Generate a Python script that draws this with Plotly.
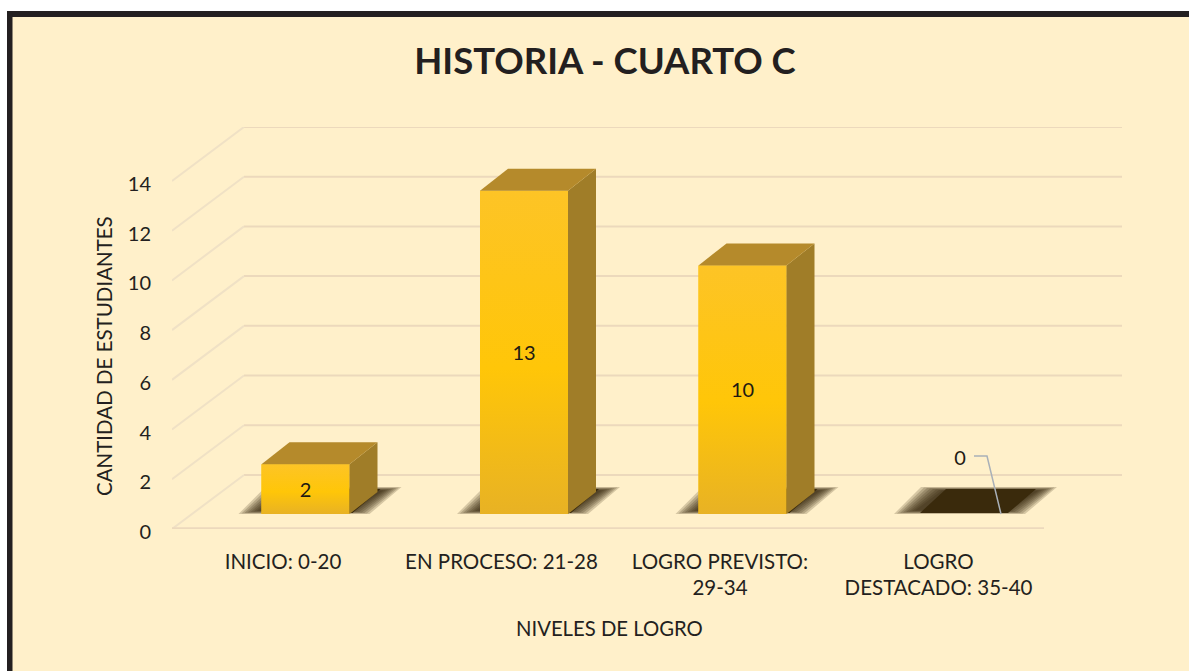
import plotly.graph_objects as go

categories = ["INICIO: 0-20", "EN PROCESO: 21-28", "LOGRO PREVISTO:<br>29-34", "LOGRO<br>DESTACADO: 35-40"]
values = [2, 13, 10, 0]
y_ticks = [0, 2, 4, 6, 8, 10, 12, 14]
title_text = "HISTORIA - CUARTO C"
x_title = "NIVELES DE LOGRO"
y_title = "CANTIDAD DE ESTUDIANTES"

W, H = 1189, 671
L, R, T, B = 172, 1122, 127, 529
X_UNIT, Y_UNIT = 218.5, 24.86
X0_PX = 283
CREAM, INK, BORDER = "#FFF0CA", "#231F20", "#231F20"
GRID, DIAG = "#ECD9BC", "#F0E1C5"

def dx(px):
    return px / X_UNIT

def dy(px):
    return px / Y_UNIT

x_range = [(L - X0_PX) / X_UNIT, (R - X0_PX) / X_UNIT]
y_range = [0, (B - T) / Y_UNIT]
BASE = dy(15)
BAR_W = dx(88)
SHIFT = dx(22.5)
DEPTH_X, DEPTH_Y = dx(28), dy(22)
WALL_X, WALL_Y = dx(72), dy(54)
positions = list(range(len(categories)))
centers = [p + SHIFT for p in positions]

def poly(points, **kw):
    path = "M " + " L ".join(f"{x},{y}" for x, y in points) + " Z"
    return dict(type="path", path=path, xref="x", yref="y", layer="below", line=dict(width=0), **kw)

def seg(x0, y0, x1, y1, color, width=2):
    return dict(type="line", x0=x0, y0=y0, x1=x1, y1=y1, xref="x", yref="y", layer="below",
                line=dict(color=color, width=width))

def page_rect(x0, y0, x1, y1, color):
    return dict(type="rect", xref="paper", yref="paper", layer="below", line=dict(width=0), fillcolor=color,
                x0=(x0 - L) / (R - L), x1=(x1 - L) / (R - L), y0=(B - y0) / (B - T), y1=(B - y1) / (B - T))

shapes = [
    page_rect(0, 0, W, 11, "white"),
    page_rect(0, 0, 7, H, "white"),
    page_rect(7, 11, W, 17, BORDER),
    page_rect(7, 11, 12.5, H, BORDER),
]

# walls, floor and gridlines
floor_right = x_range[0] + dx(872)
for t in y_ticks:
    shapes.append(seg(x_range[0] + WALL_X, t + WALL_Y, x_range[1], t + WALL_Y, GRID))
    shapes.append(seg(x_range[0], t, x_range[0] + WALL_X, t + WALL_Y, DIAG))
shapes.append(seg(x_range[0], 0.02, floor_right, 0.02, GRID, 2.5))

# soft contact shadows, built from stacked translucent layers
for c in centers:
    half = BAR_W / 2
    for i in range(8):
        a, b, v = dx(23 - 3 * i), dx(20 - 2.6 * i), dy(0.5 * i)
        shapes.append(poly([
            (c - half - a, BASE + v),
            (c + half + b, BASE + v),
            (c + half + dx(32) + b, BASE + dy(27) - v),
            (c - half + dx(27) - a, BASE + dy(27) - v),
        ], fillcolor="#33240C", opacity=0.2))
    shapes.append(poly([
        (c - half + dx(3), BASE + dy(1)),
        (c + half + dx(3), BASE + dy(1)),
        (c + half + dx(31), BASE + dy(25)),
        (c - half + dx(29), BASE + dy(25)),
    ], fillcolor="#3A2A0C", opacity=1))

fig = go.Figure()

# front faces
fig.add_trace(go.Bar(x=centers, y=values, base=[BASE] * len(values), width=BAR_W,
                     marker=dict(color="#FFC608", line=dict(width=0)), showlegend=False, hoverinfo="skip"))

for c, v in zip(centers, values):
    if v <= 0:
        continue
    x0, x1 = c - BAR_W / 2, c + BAR_W / 2
    top = BASE + v
    # gradient over the front face
    fig.add_trace(go.Scatter(
        x=[x0, x1, x1, x0, x0], y=[BASE, BASE, top, top, BASE], mode="lines", fill="toself",
        line=dict(width=0), showlegend=False, hoverinfo="skip",
        fillgradient=dict(type="vertical", colorscale=[[0, "#E8B224"], [0.45, "#FFC608"], [1, "#FDC426"]])))
    # right side
    fig.add_trace(go.Scatter(
        x=[x1, x1 + DEPTH_X, x1 + DEPTH_X, x1, x1], y=[BASE, BASE + DEPTH_Y, top + DEPTH_Y, top, BASE],
        mode="lines", fill="toself", line=dict(width=0), fillcolor="#A07D28", showlegend=False, hoverinfo="skip"))
    # top
    fig.add_trace(go.Scatter(
        x=[x0, x1, x1 + DEPTH_X, x0 + DEPTH_X, x0], y=[top, top, top + DEPTH_Y, top + DEPTH_Y, top],
        mode="lines", fill="toself", line=dict(width=0), fillcolor="#B58A2B", showlegend=False, hoverinfo="skip"))

# data labels
LABEL_NUDGE = dy(-2.5)
label_x = [c for c, v in zip(centers, values) if v > 0]
label_y = [BASE + v / 2 + LABEL_NUDGE for v in values if v > 0]
label_t = [str(v) for v in values if v > 0]
fig.add_trace(go.Scatter(x=label_x, y=label_y, text=label_t, mode="text", textposition="middle center",
                         textfont=dict(family="Lato", size=20, color="#1E1A12"), showlegend=False, hoverinfo="skip"))

# zero label with its leader line
zero_c = centers[3]
fig.add_trace(go.Scatter(
    x=[zero_c + dx(13), zero_c + dx(26), zero_c + dx(40)], y=[BASE + dy(58), BASE + dy(58), BASE],
    mode="lines", line=dict(color="#A9B0B8", width=1.5), showlegend=False, hoverinfo="skip"))
fig.add_trace(go.Scatter(x=[zero_c - dx(1)], y=[BASE + dy(54)], text=["0"], mode="text", textposition="middle center",
                         textfont=dict(family="Lato", size=20, color="#1E1A12"), showlegend=False, hoverinfo="skip"))

fig.update_layout(
    width=W, height=H, autosize=False,
    margin=dict(l=L, r=W - R, t=T, b=H - B),
    paper_bgcolor=CREAM, plot_bgcolor="rgba(0,0,0,0)",
    font=dict(family="Lato", color=INK, size=20),
    shapes=shapes, barmode="overlay",
    title=dict(text=f"<b>{title_text}</b>", x=605 / W, y=1 - 61 / H, xanchor="center", yanchor="middle",
               font=dict(family="Lato", size=36.5, color=INK)),
    annotations=[
        dict(text=x_title, xref="paper", yref="paper", x=(609 - L) / (R - L), y=(B - 628) / (B - T),
             showarrow=False, xanchor="center", yanchor="middle", font=dict(family="Lato", size=20.3, color=INK)),
        dict(text=y_title, xref="paper", yref="paper", x=(104 - L) / (R - L), y=(B - 356) / (B - T), textangle=-90,
             showarrow=False, xanchor="center", yanchor="middle", font=dict(family="Lato", size=20.5, color=INK)),
    ],
    xaxis=dict(range=x_range, tickmode="array", tickvals=positions, ticktext=categories, showgrid=False,
               zeroline=False, showline=False, ticks="outside", ticklen=14, tickcolor="rgba(0,0,0,0)",
               tickfont=dict(family="Lato", size=20.5, color=INK)),
    yaxis=dict(range=y_range, tickmode="array", tickvals=y_ticks, showgrid=False, zeroline=False, showline=False,
               ticks="outside", ticklen=16, tickcolor="rgba(0,0,0,0)", ticklabelshift=3,
               tickfont=dict(family="Lato", size=20, color=INK)),
)

fig.write_html("out.html", config={"displayModeBar": False},
               post_script="document.body.style.margin=0;document.body.style.overflow='hidden';")
